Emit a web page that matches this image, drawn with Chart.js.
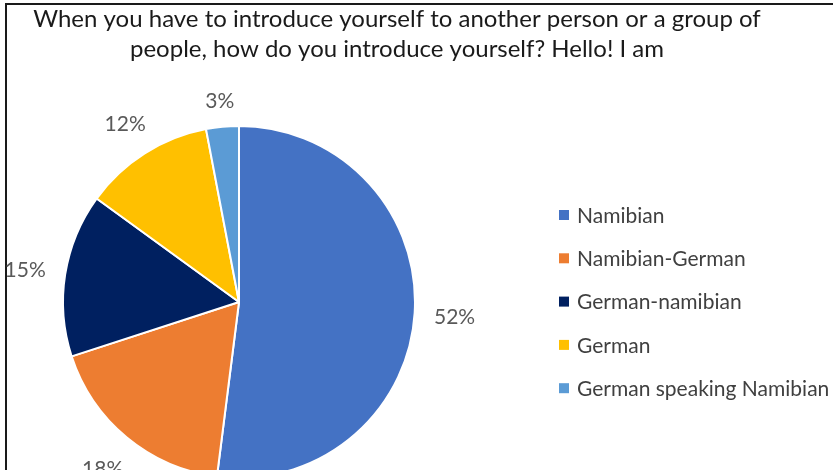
<!DOCTYPE html>
<html>
<head>
<meta charset="utf-8">
<script src="https://cdn.jsdelivr.net/npm/chart.js@4"></script>
<style>
  html, body { margin: 0; padding: 0; background: #fff; overflow: hidden; }
  #wrap { width: 833px; height: 470px; overflow: hidden; }
  canvas { display: block; }
</style>
</head>
<body>
<div id="wrap"><canvas id="c" width="833" height="540"></canvas></div>
<script>
// Survey question shown above the pie
const titleLines = [
  "When you have to introduce yourself to another person or a group of",
  "people, how do you introduce yourself? Hello! I am"
];
// Answer categories and their shares (percent)
const categories = ["Namibian", "Namibian-German", "German-namibian", "German", "German speaking Namibian"];
const shares = [52, 18, 15, 12, 3];
const sliceColors = ["#4472C4", "#ED7D31", "#002060", "#FFC000", "#5B9BD5"];

const FONT = "Lato, 'Open Sans', sans-serif";

// Frame, title, legend and outside-end percent labels
const decorations = {
  id: "decorations",
  afterDraw(chart) {
    const ctx = chart.ctx;
    ctx.save();

    // frame
    ctx.strokeStyle = "#1a1a1a";
    ctx.lineWidth = 2;
    ctx.strokeRect(6, 4, 900, 700);

    // title
    ctx.fillStyle = "#1a1a1a";
    ctx.font = "24px " + FONT;
    ctx.textAlign = "center";
    ctx.textBaseline = "middle";
    titleLines.forEach((t, i) => ctx.fillText(t, 397, 19 + i * 30));

    // legend
    ctx.font = "21px " + FONT;
    ctx.textAlign = "left";
    categories.forEach((name, i) => {
      const cy = 215 + i * 43.3;
      ctx.fillStyle = sliceColors[i];
      ctx.fillRect(559, cy - 5, 10, 10);
      ctx.fillStyle = "#404040";
      ctx.fillText(name, 577, cy + 1);
    });

    // percent labels outside each slice
    const meta = chart.getDatasetMeta(0);
    ctx.font = "21px " + FONT;
    ctx.textAlign = "center";
    ctx.fillStyle = "#595959";
    meta.data.forEach((arc, i) => {
      const p = arc.getProps(["x", "y", "startAngle", "endAngle", "outerRadius"], true);
      const mid = (p.startAngle + p.endAngle) / 2;
      const c = Math.cos(mid), s = Math.sin(mid);
      const text = chart.data.datasets[0].data[i] + "%";
      const w = ctx.measureText(text).width;
      const h = 15;
      const d = p.outerRadius + 19 + Math.abs(c) * w / 2 + Math.abs(s) * h / 2;
      ctx.fillText(text, p.x + c * d, p.y + s * d + 2);
    });

    ctx.restore();
  }
};

new Chart(document.getElementById("c"), {
  type: "pie",
  data: {
    labels: categories,
    datasets: [{
      data: shares,
      backgroundColor: sliceColors,
      borderColor: "#ffffff",
      borderWidth: 2
    }]
  },
  options: {
    responsive: false,
    animation: false,
    radius: 176,
    layout: { padding: { left: 63, right: 418, top: 126, bottom: 62 } },
    plugins: {
      legend: { display: false },
      title: { display: false },
      tooltip: { enabled: false }
    }
  },
  plugins: [decorations]
});
</script>
</body>
</html>
